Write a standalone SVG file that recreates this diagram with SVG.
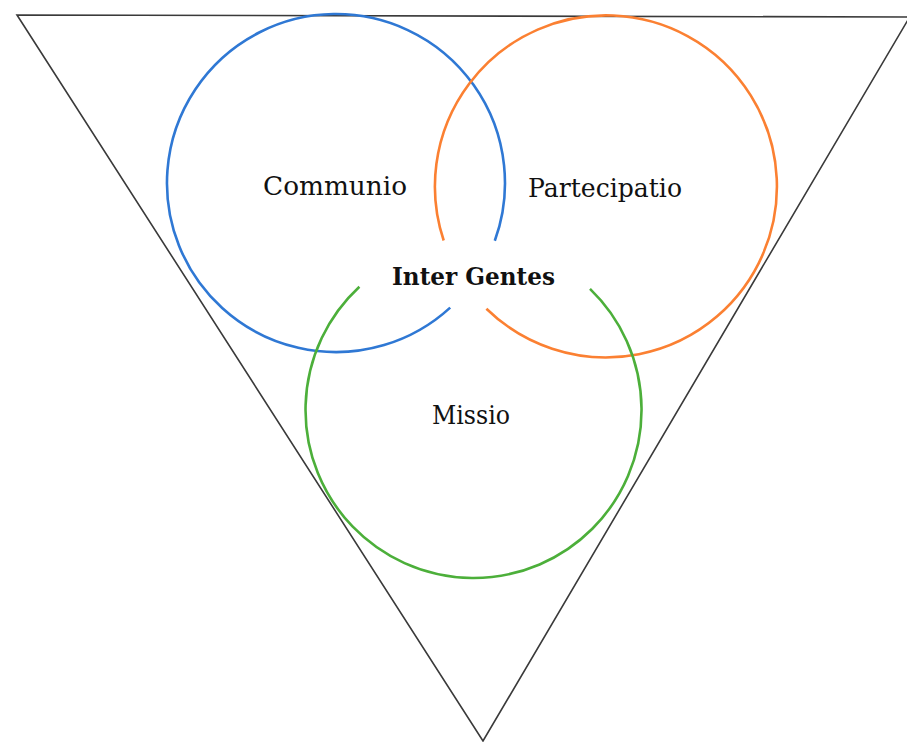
<svg xmlns="http://www.w3.org/2000/svg" width="907" height="742" viewBox="0 0 907 742">
  <style>
    .frame { fill: none; stroke: #3a3a3a; stroke-width: 1.6; stroke-linejoin: miter; }
    .ring { fill: none; stroke-width: 2.6; stroke-linecap: butt; }
    .label { font-family: "DejaVu Serif", "Liberation Serif", serif; font-size: 26px; fill: #111; text-anchor: middle; }
    .core { font-weight: bold; font-size: 25px; }
  </style>
  <rect width="907" height="742" fill="#ffffff"/>

  <!-- inverted triangle frame -->
  <g id="frame">
    <path class="frame" d="M 912 13 L 907 17 L 17 15 L 483 741 L 912 13"/>
  </g>

  <!-- the three open circles, each with a gap toward the centre -->
  <g id="connectors">
    <path id="ring-communio" class="ring" stroke="#2f78d4" d="M 450.2 307.6 A 169 169 0 1 1 494.8 240.8"/>
    <path id="ring-partecipatio" class="ring" stroke="#fb8032" d="M 443.7 240.5 A 171 171 0 1 1 486.4 308.7"/>
    <path id="ring-missio" class="ring" stroke="#4caf3a" d="M 590 288.9 A 168 168 0 1 1 359.4 286.7"/>
  </g>

  <g id="communio">
    <text class="label" x="335" y="195" textLength="144" lengthAdjust="spacingAndGlyphs">Communio</text>
  </g>
  <g id="partecipatio">
    <text class="label" x="605" y="197" textLength="154" lengthAdjust="spacingAndGlyphs">Partecipatio</text>
  </g>
  <g id="missio">
    <text class="label" x="471" y="424" textLength="78" lengthAdjust="spacingAndGlyphs">Missio</text>
  </g>
  <g id="inter-gentes">
    <text class="label core" x="473.5" y="285" textLength="163" lengthAdjust="spacingAndGlyphs">Inter Gentes</text>
  </g>
</svg>
